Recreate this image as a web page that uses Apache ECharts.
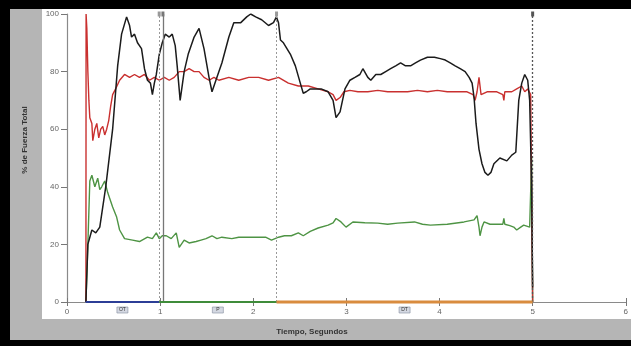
<!DOCTYPE html>
<html>
<head>
<meta charset="utf-8">
<script src="https://cdn.jsdelivr.net/npm/echarts@6/dist/echarts.min.js"></script>
<style>
html,body{margin:0;padding:0;background:#000;}
#c{width:631px;height:346px;}
</style>
</head>
<body>
<div id="c"></div>
<script>
// Time (s) / % de Fuerza Total
const xTicks = [0, 1, 2, 3, 4, 5, 6];
const yTicks = [0, 20, 40, 60, 80, 100];

const blackSeries = [
 [0.203,0],[0.224,20],[0.267,25],[0.309,24],[0.352,26],[0.416,40],[0.490,60],[0.544,82],[0.586,93],[0.640,99],
 [0.672,96],[0.693,92],[0.725,93],[0.757,90],[0.800,88],[0.832,81],[0.864,77],[0.896,76],[0.917,72],[0.938,76],
 [0.959,79],[0.991,86],[1.023,90],[1.055,93],[1.098,92],[1.130,93],[1.162,89],[1.183,82],[1.215,70],[1.258,80],
 [1.301,86],[1.365,92],[1.418,95],[1.471,88],[1.525,78],[1.557,73],[1.610,78],[1.663,83],[1.738,92],[1.791,97],
 [1.866,97],[1.930,99],[1.972,100],[2.026,99],[2.090,98],[2.164,96],[2.217,97],[2.249,99],[2.271,97],[2.292,91],
 [2.324,90],[2.399,86],[2.452,82],[2.505,76],[2.537,72.5],[2.569,73],[2.612,74],[2.676,74],[2.729,74],[2.804,73],
 [2.857,70],[2.889,64],[2.932,66],[2.985,74],[3.038,77],[3.092,78],[3.145,79],[3.177,81],[3.230,78],[3.262,77],
 [3.316,79],[3.369,79],[3.422,80],[3.475,81],[3.529,82],[3.582,83],[3.635,82],[3.689,82],[3.742,83],[3.795,84],
 [3.870,85],[3.945,85],[4.009,84.5],[4.062,84],[4.115,83],[4.168,82],[4.222,81],[4.275,80],[4.318,78],[4.350,76],
 [4.371,71],[4.392,62],[4.424,53],[4.456,48],[4.488,45],[4.520,44],[4.552,45],[4.584,48],[4.648,50],[4.723,49],
 [4.776,51],[4.819,52],[4.851,70],[4.883,76],[4.915,79],[4.947,77],[4.968,70],[4.989,40],[5.000,5]
];

const redSeries = [
 [0.203,0],[0.205,100],[0.213,95],[0.224,80],[0.235,70],[0.245,64],[0.267,62],[0.277,56],[0.299,60],[0.320,62],
 [0.341,57],[0.362,60],[0.384,61],[0.405,58],[0.426,60],[0.448,63],[0.469,68],[0.490,72],[0.522,74],[0.565,77],
 [0.618,79],[0.672,78],[0.725,79],[0.778,78],[0.832,79],[0.885,77],[0.938,78],[0.991,77],[1.045,78],[1.098,77],
 [1.151,78],[1.205,80],[1.258,80],[1.311,81],[1.365,80],[1.418,80],[1.471,78],[1.525,77],[1.578,78],[1.631,77],
 [1.738,78],[1.844,77],[1.951,78],[2.058,78],[2.164,77],[2.271,78],[2.377,76],[2.484,75],[2.591,75],[2.697,74],
 [2.804,73],[2.857,72],[2.889,70],[2.932,71],[2.974,73],[3.038,73.5],[3.124,73],[3.230,73],[3.337,73.5],[3.443,73],
 [3.550,73],[3.657,73],[3.763,73.5],[3.870,73],[3.977,73.5],[4.083,73],[4.190,73],[4.296,73],[4.360,72],[4.382,70],
 [4.403,73],[4.424,78],[4.446,72],[4.510,73],[4.616,73],[4.680,72],[4.691,70],[4.701,73],[4.776,73],[4.829,74],
 [4.883,75],[4.915,73],[4.947,74],[4.979,72],[5.000,0]
];

const greenSeries = [
 [0.203,0],[0.224,20],[0.245,42],[0.267,44],[0.299,40],[0.330,43],[0.352,39],[0.373,40],[0.405,42],[0.437,38],
 [0.458,36],[0.490,33],[0.533,29.5],[0.565,25],[0.618,22],[0.704,21.5],[0.778,21],[0.864,22.5],[0.917,22],[0.959,24],
 [0.991,22],[1.023,23],[1.066,23],[1.119,22],[1.173,24],[1.205,19],[1.258,21.5],[1.311,20.5],[1.386,21],[1.439,21.5],
 [1.493,22],[1.557,23],[1.610,22],[1.663,22.5],[1.770,22],[1.844,22.5],[1.919,22.5],[2.026,22.5],[2.132,22.5],[2.196,21.5],
 [2.271,22.5],[2.335,23],[2.409,23],[2.484,24],[2.537,23],[2.612,24.5],[2.697,25.7],[2.804,26.7],[2.857,27.5],[2.889,29],
 [2.942,27.8],[2.996,26],[3.017,25.7],[3.070,27.8],[3.198,27.5],[3.337,27.4],[3.443,27],[3.550,27.4],[3.731,27.8],[3.817,27],
 [3.902,26.7],[4.083,27],[4.264,27.8],[4.371,28.5],[4.403,30],[4.424,26],[4.435,23],[4.456,26],[4.478,27.8],[4.542,27],
 [4.616,27],[4.680,27],[4.691,29],[4.701,27],[4.755,26.5],[4.797,26],[4.829,25],[4.872,26],[4.904,26.7],[4.968,26],
 [4.989,50],[5.000,0]
];

// Phases along the time axis
const phaseNames = ['OT', 'P', 'DT'];
const phaseStart = [0.2, 0.99, 2.25];
const phaseEnd = [0.99, 2.25, 5.0];
const phaseColors = ['#2c3e96', '#3f8c3a', '#d98c3f'];
const eventLinesDotted = [0.99, 2.25, 5.0];
const eventLineSolid = [1.03];

const chart = echarts.init(document.getElementById('c'));
const font = 'Liberation Sans, Arial, sans-serif';

const phaseSeries = phaseNames.map((name, i) => ({
  type: 'line',
  name: name,
  data: [[phaseStart[i], 0], [phaseEnd[i], 0]],
  symbol: 'none',
  clip: false,
  z: 5,
  lineStyle: { color: phaseColors[i], width: i === 2 ? 3 : 2.2 },
  markPoint: {
    symbol: 'rect',
    symbolSize: [11, 6],
    symbolOffset: [0, 8],
    itemStyle: { color: '#d4d8e2', borderColor: '#8890a0', borderWidth: 0.6 },
    label: { show: true, position: 'inside', fontSize: 5, color: '#333', fontFamily: font, formatter: name },
    data: [{ coord: [(phaseStart[i] + phaseEnd[i]) / 2, 0] }]
  }
}));

const xBase = { type: 'value', min: xTicks[0], max: xTicks[xTicks.length - 1], interval: 1, position: 'bottom', splitLine: { show: false } };

chart.setOption({
  backgroundColor: '#000',
  animation: false,
  graphic: [
    { type: 'rect', z: -100, shape: { x: 10, y: 9, width: 621, height: 331 }, style: { fill: '#b5b5b5' } },
    { type: 'rect', z: -99, shape: { x: 42, y: 9, width: 589, height: 310 }, style: { fill: '#ffffff' } },
    { type: 'text', z: 10, x: 312, y: 332, style: { text: 'Tiempo, Segundos', fill: '#333', font: 'bold 8px ' + font, align: 'center', verticalAlign: 'middle' } },
    { type: 'text', z: 10, x: 25, y: 140, rotation: Math.PI / 2, style: { text: '% de Fuerza Total', fill: '#333', font: 'bold 8px ' + font, align: 'center', verticalAlign: 'middle' } }
  ],
  grid: { left: 67, right: 1, top: 14, bottom: 44, containLabel: false },
  xAxis: [
    Object.assign({}, xBase, {
      axisLine: { show: true, lineStyle: { color: '#8a8a8a', width: 1.2 } },
      axisTick: { show: true, inside: false, length: 4, lineStyle: { color: '#777' } },
      axisLabel: { fontSize: 8, color: '#666', fontFamily: font, margin: 6 }
    }),
    Object.assign({}, xBase, {
      axisLine: { show: false },
      axisTick: { show: true, inside: true, length: 4, lineStyle: { color: '#777' } },
      axisLabel: { show: false }
    })
  ],
  yAxis: {
    type: 'value', min: yTicks[0], max: yTicks[yTicks.length - 1], interval: 20,
    axisLine: { show: true, lineStyle: { color: '#8a8a8a', width: 1.2 } },
    axisTick: { show: true, length: 6, lineStyle: { color: '#777' } },
    axisLabel: { fontSize: 8, color: '#666', fontFamily: font, margin: 8 },
    splitLine: { show: false }
  },
  series: [
    {
      type: 'line', name: 'events', data: [], symbol: 'none',
      markLine: {
        silent: true, symbol: ['none', 'rect'], symbolSize: [3, 5], label: { show: false },
        data: eventLinesDotted.map(t => ({ xAxis: t, lineStyle: { type: [2, 2], color: t === 5 ? '#555' : '#999', width: t === 5 ? 1.3 : 1 }, itemStyle: { color: '#999' } }))
          .concat(eventLineSolid.map(t => ({ xAxis: t, symbol: 'none', lineStyle: { type: 'solid', color: '#777', width: 1.3 } })))
      }
    },
    { type: 'line', name: 'Verde', data: greenSeries, symbol: 'none', lineStyle: { color: '#4e9444', width: 1.4 }, z: 3 },
    { type: 'line', name: 'Rojo', data: redSeries, symbol: 'none', lineStyle: { color: '#c9302f', width: 1.4 }, z: 4 },
    { type: 'line', name: 'Negro', data: blackSeries, symbol: 'none', lineStyle: { color: '#1b1b1b', width: 1.5 }, z: 4 }
  ].concat(phaseSeries)
});
</script>
</body>
</html>
